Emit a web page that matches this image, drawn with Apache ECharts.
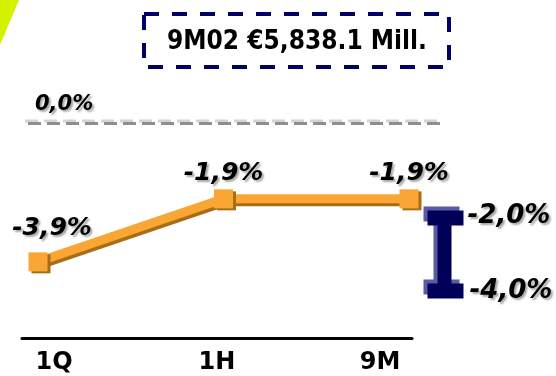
<!DOCTYPE html>
<html>
<head>
<meta charset="utf-8">
<script src="https://cdn.jsdelivr.net/npm/echarts@6/dist/echarts.min.js"></script>
<style>
  html, body { margin: 0; padding: 0; background: #ffffff; }
  #chart { width: 556px; height: 376px; }
</style>
</head>
<body>
<div id="chart"></div>
<script>
// Period labels and cumulative change per period (%)
const periods = ['1Q', '1H', '9M'];
const cumulativeChange = [-3.9, -1.9, -1.9];
// Full-year guidance range (%), upper and lower bound
const guidanceRange = [-2.0, -4.0];
// Reference level drawn as the dashed baseline (%)
const baselineLevel = [0.0];
const headline = '9M02 €5,838.1 Mill.';

const FONT = 'DejaVu Sans';
const FONT_NARROW = 'DejaVu Sans Condensed';
const ORANGE = '#F9A634';
const ORANGE_SHADE = '#A86E16';
const NAVY = '#000058';
const NAVY_LIGHT = '#5A5AA6';

const fmt = v => v.toFixed(1).replace('.', ',') + '%';

const textShadow = {
  textShadowColor: 'rgba(0,0,0,0.35)',
  textShadowBlur: 2,
  textShadowOffsetX: 2,
  textShadowOffsetY: 2
};

const pointLabel = Object.assign({
  show: true,
  position: 'top',
  distance: 3,
  fontFamily: FONT,
  fontSize: 25,
  fontWeight: 'bold',
  fontStyle: 'italic',
  color: '#000',
  formatter: p => fmt(p.value)
}, textShadow);

// the first label sits a little right of its point
const lineData = cumulativeChange.map((v, i) =>
  i === 0 ? { value: v, label: { offset: [14, -8] } } : { value: v }
);

const rangeData = [[0, guidanceRange[0], guidanceRange[1]]];

function renderRange(params, api) {
  const top = api.coord([api.value(0), api.value(1)]);
  const bot = api.coord([api.value(0), api.value(2)]);
  const cx = top[0];
  const capW = 36, capH = 15, stemW = 14;
  const parts = (fill, ox, oy) => [
    { type: 'rect', shape: { x: cx - 16 + ox, y: top[1] - capH / 2 + oy, width: capW, height: capH }, style: { fill } },
    { type: 'rect', shape: { x: cx - 6 + ox, y: top[1] + oy, width: stemW, height: bot[1] - top[1] }, style: { fill } },
    { type: 'rect', shape: { x: cx - 16 + ox, y: bot[1] - capH / 2 + oy, width: capW, height: capH }, style: { fill } }
  ];
  const label = (val, y, dx) => ({
    type: 'text',
    x: cx + dx,
    y: y,
    style: Object.assign({
      text: fmt(val),
      fontFamily: FONT,
      fontSize: 26,
      fontWeight: 'bold',
      fontStyle: 'italic',
      fill: '#000',
      align: 'left',
      verticalAlign: 'middle'
    }, textShadow)
  });
  return {
    type: 'group',
    children: parts(NAVY_LIGHT, -4, -4)
      .concat(parts(NAVY, 0, 0))
      .concat([label(api.value(1), top[1] - 2, 24), label(api.value(2), bot[1], 26)])
  };
}

const chart = echarts.init(document.getElementById('chart'), null, { renderer: 'canvas' });

chart.setOption({
  animation: false,
  backgroundColor: '#ffffff',
  title: {
    text: headline,
    left: 297,
    top: 29,
    textAlign: 'center',
    padding: 0,
    textStyle: { fontFamily: FONT_NARROW, fontSize: 26, fontWeight: 'bold', color: '#000' }
  },
  graphic: [
    { type: 'polygon', shape: { points: [[0, 0], [19, 0], [0, 45]] }, style: { fill: '#D4F200' } },
    {
      type: 'rect',
      shape: { x: 144, y: 14, width: 305, height: 53 },
      style: { fill: 'none', stroke: '#000066', lineWidth: 4, lineDash: [15, 13] }
    }
  ],
  grid: [
    { left: 38, right: 147, top: 139, height: 157.5 },   // trend line
    { left: 28, right: 116, top: 123, height: 60 },      // baseline
    { left: 424, right: 93, top: 145, height: 182.5 },   // guidance range
    { left: 22, right: 144, top: 300, height: 38 },      // axis rule
    { left: 54, right: 176, top: 300, height: 38 }       // period labels
  ],
  xAxis: [
    { gridIndex: 0, type: 'category', data: periods, boundaryGap: false, show: false },
    { gridIndex: 1, type: 'value', min: 0, max: 1, show: false },
    { gridIndex: 2, type: 'category', data: [periods[2]], boundaryGap: true, show: false },
    {
      gridIndex: 3, type: 'category', data: periods,
      axisLine: { show: true, lineStyle: { color: '#000', width: 3 } },
      axisTick: { show: false }, axisLabel: { show: false }, splitLine: { show: false }
    },
    {
      gridIndex: 4, type: 'category', data: periods, boundaryGap: false,
      axisLine: { show: false }, axisTick: { show: false }, splitLine: { show: false },
      axisLabel: { show: true, margin: 13, fontFamily: FONT, fontSize: 24, fontWeight: 'bold', color: '#000' }
    }
  ],
  yAxis: [
    { gridIndex: 0, type: 'value', min: -5, max: 0, show: false },
    { gridIndex: 1, type: 'value', min: -1, max: 0, show: false },
    { gridIndex: 2, type: 'value', min: -5, max: 0, show: false },
    { gridIndex: 3, type: 'value', show: false },
    { gridIndex: 4, type: 'value', show: false }
  ],
  series: [
    {
      name: 'baseline',
      type: 'line',
      xAxisIndex: 1,
      yAxisIndex: 1,
      data: [],
      silent: true,
      markLine: {
        silent: true,
        symbol: 'none',
        data: [{ yAxis: baselineLevel[0] }],
        lineStyle: {
          color: '#8E8E8E',
          width: 3,
          type: [13, 6],
          shadowColor: '#D4D4D4',
          shadowBlur: 0,
          shadowOffsetX: -3,
          shadowOffsetY: -2.5
        },
        label: Object.assign({
          show: true,
          position: 'insideStartTop',
          distance: [7, 8],
          formatter: () => fmt(baselineLevel[0]),
          fontFamily: FONT,
          fontSize: 21,
          fontWeight: 'bold',
          fontStyle: 'italic',
          color: '#000'
        }, textShadow)
      }
    },
    {
      name: 'cumulative',
      type: 'line',
      xAxisIndex: 0,
      yAxisIndex: 0,
      data: lineData,
      symbol: 'rect',
      symbolSize: 19,
      showAllSymbol: true,
      lineStyle: {
        color: ORANGE,
        width: 9,
        shadowColor: ORANGE_SHADE,
        shadowBlur: 0,
        shadowOffsetX: 2,
        shadowOffsetY: 3
      },
      itemStyle: {
        color: ORANGE,
        borderWidth: 0,
        shadowColor: ORANGE_SHADE,
        shadowBlur: 0,
        shadowOffsetX: 3,
        shadowOffsetY: 2
      },
      label: pointLabel,
      z: 3
    },
    {
      name: 'guidance',
      type: 'custom',
      xAxisIndex: 2,
      yAxisIndex: 2,
      data: rangeData,
      renderItem: renderRange,
      z: 3
    }
  ]
});
</script>
</body>
</html>
